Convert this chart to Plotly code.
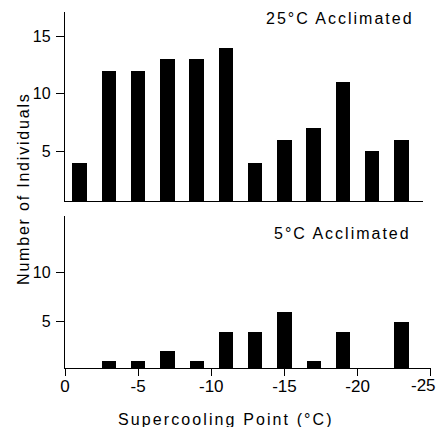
import plotly.graph_objects as go

# Data
bins = [-1, -3, -5, -7, -9, -11, -13, -15, -17, -19, -21, -23]
warm_counts = [4, 12, 12, 13, 13, 14, 4, 6, 7, 11, 5, 6]   # 25°C acclimated
cold_counts = [0, 1, 1, 2, 1, 4, 4, 6, 1, 4, 0, 5]          # 5°C acclimated
x_tick_vals = [0, -5, -10, -15, -20, -25]
x_tick_text = ["0", "-5", "-10", "-15", "-20", "-25"]
top_y_ticks = [5, 10, 15]
bot_y_ticks = [5, 10]

FONT = "Liberation Sans, Arial, Helvetica, sans-serif"

W, H = 440, 427
L, R, T, B = 65, 9.3, 12, 59
pw, ph = W - L - R, H - T - B

def px(x):
    return (x - L) / pw

def py(y):
    return (H - B - y) / ph

fig = go.Figure()
fig.add_trace(go.Bar(x=bins, y=warm_counts, width=0.98, marker=dict(color="black", line_width=0),
                     xaxis="x", yaxis="y", showlegend=False))
fig.add_trace(go.Bar(x=bins, y=cold_counts, width=0.98, marker=dict(color="black", line_width=0),
                     xaxis="x2", yaxis="y2", showlegend=False))

axis_common = dict(showgrid=False, zeroline=False, showline=True, linecolor="black", linewidth=1.3,
                   automargin=False)

# last x tick label sits against the right edge; draw it as an annotation shifted inward
shown_x_text = x_tick_text[:-1] + [""]

fig.update_layout(
    width=W, height=H,
    margin=dict(l=L, r=R, t=T, b=B, autoexpand=False),
    paper_bgcolor="white", plot_bgcolor="white",
    font=dict(family=FONT, color="black"),
    bargap=0,
    xaxis=dict(**axis_common, domain=[0, px(423)], range=[0, -24.5], anchor="y",
               showticklabels=False, ticks=""),
    yaxis=dict(**axis_common, domain=[py(201), 1], range=[0.67, 17.1], anchor="x",
               tickvals=top_y_ticks, ticktext=[str(v) for v in top_y_ticks],
               ticks="outside", ticklen=8, tickwidth=1, tickcolor="black", ticklabelstandoff=2,
               tickfont=dict(size=16, family=FONT, color="black")),
    xaxis2=dict(**axis_common, domain=[0, 1], range=[0.001, -25.02], anchor="y2",
                tickvals=x_tick_vals, ticktext=shown_x_text,
                ticks="outside", ticklen=7, tickwidth=1, tickcolor="black", ticklabelstandoff=-5,
                ticklabeloverflow="allow",
                tickfont=dict(size=17, family=FONT, color="black")),
    yaxis2=dict(**axis_common, domain=[0, py(216)], range=[0.28, 15.8], anchor="x2",
                tickvals=bot_y_ticks, ticktext=[str(v) for v in bot_y_ticks],
                ticks="outside", ticklen=8, tickwidth=1, tickcolor="black", ticklabelstandoff=2,
                tickfont=dict(size=16, family=FONT, color="black")),
)

fig.add_annotation(text=x_tick_text[-1], xref="paper", yref="paper",
                   x=px(438), y=py(385.5), xanchor="right", yanchor="middle", showarrow=False,
                   font=dict(size=17, family=FONT, color="black"))

ann_font = dict(size=16, family=FONT, color="black")
def spaced(t, ls):
    return f'<span style="letter-spacing:{ls}px">{t}</span>'

fig.add_annotation(text=spaced("25°C Acclimated", 2.0), xref="paper", yref="paper",
                   x=px(416), y=py(18), xanchor="right", yanchor="middle", showarrow=False, font=ann_font)
fig.add_annotation(text=spaced("5°C Acclimated", 2.0), xref="paper", yref="paper",
                   x=px(413), y=py(233), xanchor="right", yanchor="middle", showarrow=False, font=ann_font)
fig.add_annotation(text=spaced("Supercooling Point (°C)", 2.1), xref="paper", yref="paper",
                   x=px(226), y=py(419), xanchor="center", yanchor="middle", showarrow=False, font=ann_font)
fig.add_annotation(text=spaced("Number of Individuals", 1.8), xref="paper", yref="paper",
                   x=px(23), y=py(188), xanchor="center", yanchor="middle", showarrow=False,
                   textangle=-90, font=ann_font)

fig.write_html("out.html")
